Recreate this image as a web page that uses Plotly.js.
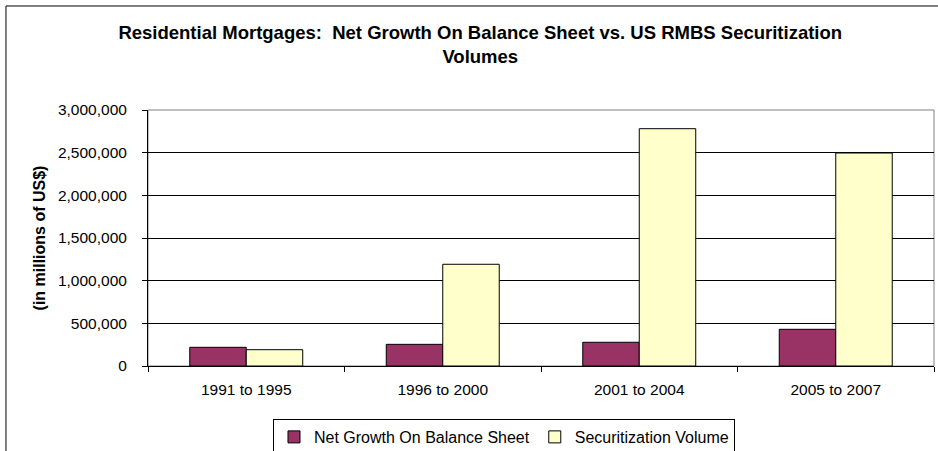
<!DOCTYPE html>
<html>
<head>
<meta charset="utf-8">
<script src="https://cdn.plot.ly/plotly-3.0.1.min.js"></script>
<style>
html,body{margin:0;padding:0;background:#fff;}
#chart{width:938px;height:451px;}
</style>
</head>
<body>
<div id="chart"></div>
<script>
const categories = ["1991 to 1995", "1996 to 2000", "2001 to 2004", "2005 to 2007"];
const netGrowth = [219000, 254000, 278000, 430000];
const securitization = [191000, 1192000, 2781000, 2496000];
const seriesNames = ["Net Growth On Balance Sheet", "Securitization Volume"];
const yTickVals = [0, 500000, 1000000, 1500000, 2000000, 2500000, 3000000];

const FONT = "Liberation Sans, Arial, Helvetica, sans-serif";

const traces = [
  {
    type: "bar", name: seriesNames[0], x: categories, y: netGrowth,
    marker: {color: "#993366", line: {color: "#000000", width: 1}},
    hoverinfo: "skip"
  },
  {
    type: "bar", name: seriesNames[1], x: categories, y: securitization,
    marker: {color: "#FFFFCC", line: {color: "#000000", width: 1}},
    hoverinfo: "skip"
  }
];

const layout = {
  width: 938, height: 451,
  margin: {l: 148, r: 4, t: 110, b: 85, pad: 0},
  paper_bgcolor: "#ffffff", plot_bgcolor: "#ffffff",
  font: {family: FONT, size: 16, color: "#000000"},
  barmode: "group", bargap: 0.425, bargroupgap: 0,
  showlegend: true,
  title: {
    text: "<b>Residential Mortgages:  Net Growth On Balance Sheet vs. US RMBS Securitization<br>Volumes</b>",
    font: {family: FONT, size: 18.5, color: "#000000"},
    x: 0.512, xref: "container", xanchor: "center",
    y: 0.914, yref: "container", yanchor: "middle"
  },
  xaxis: {
    type: "category",
    showline: true, linecolor: "#000000", linewidth: 1,
    ticks: "outside", ticklen: 5, tickcolor: "#000000", tickwidth: 1,
    tickson: "boundaries",
    ticklabelstandoff: 9,
    showgrid: false, zeroline: false,
    tickfont: {family: FONT, size: 15.5, color: "#000000"},
    fixedrange: true
  },
  yaxis: {
    range: [0, 3000000],
    tickvals: yTickVals,
    tickformat: ",d",
    showline: true, linecolor: "#000000", linewidth: 1,
    ticks: "outside", ticklen: 5, tickcolor: "#000000", tickwidth: 1,
    ticklabelstandoff: 12,
    showgrid: true, gridcolor: "#000000", gridwidth: 1,
    zeroline: false,
    tickfont: {family: FONT, size: 15.5, color: "#000000"},
    title: {text: "<b>(in millions of US$)</b>", font: {family: FONT, size: 16, color: "#000000"}, standoff: 8},
    automargin: false,
    fixedrange: true
  },
  legend: {
    orientation: "h",
    xref: "container", x: 0.5373, xanchor: "center",
    yref: "container", y: 0.071, yanchor: "top",
    bgcolor: "#ffffff", bordercolor: "#000000", borderwidth: 1,
    font: {family: FONT, size: 16, color: "#000000"},
    traceorder: "normal"
  },
  shapes: [
    {type: "rect", xref: "paper", yref: "paper", x0: 0, x1: 1, y0: 0, y1: 1,
     line: {color: "#808080", width: 1}, fillcolor: "rgba(0,0,0,0)", layer: "below"},
    {type: "rect", xref: "paper", yref: "paper", x0: -0.1807, x1: 1.2, y0: -0.6, y1: 1.4063,
     line: {color: "#000000", width: 1}, fillcolor: "rgba(0,0,0,0)", layer: "below"}
  ]
};

Plotly.newPlot("chart", traces, layout, {displayModeBar: false, staticPlot: true});
</script>
</body>
</html>
